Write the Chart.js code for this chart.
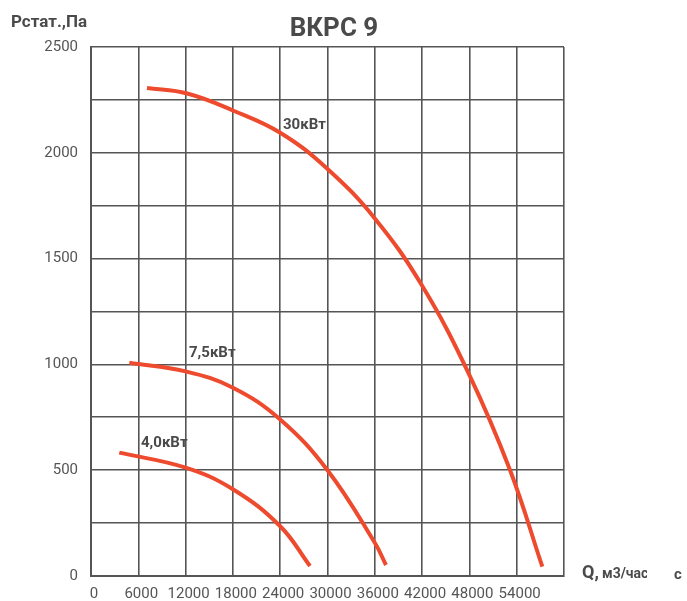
<!DOCTYPE html>
<html>
<head>
<meta charset="utf-8">
<script src="https://cdn.jsdelivr.net/npm/chart.js@4.4.1/dist/chart.umd.min.js"></script>
<style>
  html, body { margin: 0; padding: 0; background: #fff; }
  #wrap { width: 687px; height: 601px; }
</style>
</head>
<body>
<div id="wrap"><canvas id="chartVkrs"></canvas></div>
<script>
// Данные кривых (Q, м3/час ; Рстат, Па)
const q30 = [7100, 12200, 18000, 24000, 29900, 36000, 41950, 47900, 53150, 57250];
const p30 = [2306, 2280, 2200, 2095, 1927, 1690, 1375, 958, 501, 44];

const q75 = [4860, 12000, 18000, 24000, 30000, 36000, 37420];
const p75 = [1008, 967, 890, 740, 500, 157, 52];

const q40 = [3590, 12000, 18000, 24000, 27780];
const p40 = [583, 512, 410, 235, 47];

const curveLabels = ['30кВт', '7,5кВт', '4,0кВт'];
const xTicks = [0, 6000, 12000, 18000, 24000, 30000, 36000, 42000, 48000, 54000];

const RED = '#ee4a2e';
const GRID = '#555555';

function toPoints(xs, ys) {
    return xs.map((x, i) => ({ x: x, y: ys[i] }));
}

function curve(xs, ys) {
    return {
        data: toPoints(xs, ys),
        borderColor: RED,
        borderWidth: 4,
        pointRadius: 0,
        fill: false,
        showLine: true,
        tension: 0.4
    };
}

// надписи: заголовок, подписи осей, подписи кривых
const textPlugin = {
    id: 'texts',
    afterDraw(chart) {
        const ctx = chart.ctx;
        const xs = chart.scales.x, ys = chart.scales.y;
        ctx.save();
        ctx.fillStyle = '#4a4a4a';
        ctx.textBaseline = 'middle';

        ctx.font = 'bold 26px Roboto, Arial, sans-serif';
        ctx.textAlign = 'center';
        ctx.fillText('ВКРС 9', 334, 29);

        ctx.font = 'bold 17px Roboto, Arial, sans-serif';
        ctx.textAlign = 'left';
        ctx.fillText('Рстат.,Па', 11, 23);

        ctx.font = 'bold 18px Roboto, Arial, sans-serif';
        ctx.fillText('Q,', 582, 573);
        ctx.font = 'bold 14px Roboto, Arial, sans-serif';
        ctx.fillText('м3/час', 602, 574);
        ctx.fillStyle = '#fff';
        ctx.fillRect(647, 560, 26, 25);
        ctx.fillStyle = '#4a4a4a';
        ctx.font = 'bold 15px Roboto, Arial, sans-serif';
        ctx.fillText('с', 674, 575);

        // подписи мощностей, привязанные к шкалам
        ctx.font = 'bold 15px Roboto, Arial, sans-serif';
        const spots = [[24355, 2131], [12430, 1054], [6340, 628]];
        spots.forEach(([qx, py], i) => {
            ctx.fillText(curveLabels[i], xs.getPixelForValue(qx), ys.getPixelForValue(py));
        });
        ctx.restore();
    }
};

new Chart(document.getElementById('chartVkrs'), {
    type: 'scatter',
    data: {
        datasets: [curve(q30, p30), curve(q75, p75), curve(q40, p40)]
    },
    options: {
        responsive: true,
        maintainAspectRatio: false,
        animation: false,
        layout: { padding: { left: 0, top: 47, right: 123, bottom: 0 } },
        plugins: { legend: { display: false }, tooltip: { enabled: false } },
        scales: {
            x: {
                type: 'linear',
                min: 0,
                max: 60000,
                afterFit: s => { s.height = 25; },
                afterBuildTicks: s => { s.ticks = xTicks.concat([60000]).map(v => ({ value: v })); },
                grid: { color: GRID, lineWidth: 1.6, drawTicks: false },
                border: { color: GRID, width: 2 },
                ticks: {
                    color: '#555',
                    font: { size: 15, family: 'Roboto, Arial, sans-serif' },
                    padding: 9,
                    labelOffset: 3,
                    maxRotation: 0,
                    autoSkip: false,
                    callback: v => (v >= 60000 ? '' : String(v))
                }
            },
            y: {
                type: 'linear',
                min: 0,
                max: 2500,
                afterFit: s => { s.width = 91; },
                grid: { color: GRID, lineWidth: 1.6, drawTicks: false },
                border: { color: GRID, width: 2 },
                ticks: {
                    stepSize: 250,
                    color: '#555',
                    font: { size: 15, family: 'Roboto, Arial, sans-serif' },
                    padding: 13,
                    autoSkip: false,
                    callback: v => (v % 500 === 0 ? String(v) : '')
                }
            }
        }
    },
    plugins: [textPlugin]
});
</script>
</body>
</html>
